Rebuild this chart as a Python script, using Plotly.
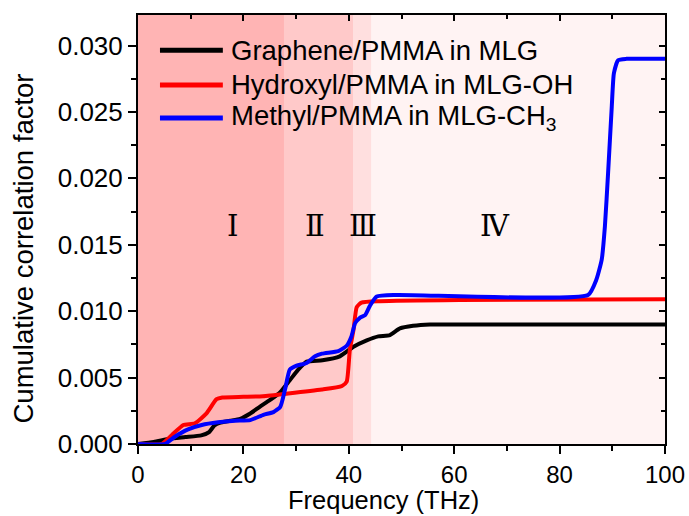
import plotly.graph_objects as go

# Cumulative correlation factor vs. frequency for three interfaces
freq_mlg = [0, 3, 6, 9, 12, 13.5, 14.5, 15.5, 17.5, 19.4, 21.3, 23.1, 25, 27, 28.8,
            30.4, 32, 35, 38.3, 40.8, 43.4, 45.6, 47.8, 49.7, 52.2, 55.4, 60, 100]
ccf_mlg = [0, 0.00015, 0.0004, 0.00052, 0.00065, 0.0009, 0.0014, 0.0016, 0.00175,
           0.0019, 0.0023, 0.0028, 0.0033, 0.0039, 0.0048, 0.0056, 0.0062, 0.0063,
           0.0066, 0.0073, 0.0078, 0.0081, 0.0082, 0.0087, 0.0089, 0.0090, 0.0090, 0.0090]

freq_oh = [0, 4.5, 6.5, 8.6, 10.8, 13.0, 14.9, 16, 20, 23.7, 28.5, 34.9, 38.7, 39.6,
           40.2, 40.9, 41.5, 42.4, 45.9, 61, 100]
ccf_oh = [0, 0, 0.0007, 0.00143, 0.00156, 0.0023, 0.00337, 0.0035, 0.00355, 0.0036,
          0.0038, 0.0041, 0.00437, 0.0047, 0.0071, 0.0086, 0.0103, 0.01064, 0.01075,
          0.01084, 0.0109]

freq_ch3 = [0, 5.1, 7.0, 9.5, 12.1, 15.2, 18.4, 21.3, 23.8, 25.7, 27.0, 27.9, 28.8,
            30.1, 32.0, 33.6, 34.9, 38.0, 39.6, 40.5, 41.2, 42.1, 43.1, 44.0, 45.3,
            49.1, 85.4, 87.0, 88.0, 88.6, 89.2, 89.9, 90.3, 91.1, 92.7, 100]
ccf_ch3 = [0, 0, 0.00055, 0.0011, 0.00143, 0.00163, 0.00175, 0.0018, 0.0022, 0.0024,
           0.0028, 0.0041, 0.0056, 0.0059, 0.0061, 0.0066, 0.0068, 0.0070, 0.0074,
           0.0081, 0.0091, 0.0095, 0.0097, 0.0104, 0.0111, 0.01122, 0.01122, 0.0124,
           0.0139, 0.0164, 0.0204, 0.0254, 0.0279, 0.0289, 0.0290, 0.0290]

series_names = ["Graphene/PMMA in MLG", "Hydroxyl/PMMA in MLG-OH",
                "Methyl/PMMA in MLG-CH<sub>3</sub>"]
series_colors = ["#000000", "#ff0000", "#0000ff"]

# Frequency regions and their labels
region_edges = [0, 27.7, 40.8, 44.3, 100]
region_colors = ["#ffb4b4", "#ffc9c9", "#ffdfdf", "#fff3f3"]
region_labels = ["Ⅰ", "Ⅱ", "Ⅲ", "Ⅳ"]
region_label_x = [18.0, 33.6, 42.7, 67.7]

FONT = "Arial, Liberation Sans, sans-serif"

fig = go.Figure()

for xs, ys, name, color in zip([freq_mlg, freq_oh, freq_ch3],
                               [ccf_mlg, ccf_oh, ccf_ch3],
                               series_names, series_colors):
    fig.add_trace(go.Scatter(x=xs, y=ys, mode="lines", name=name,
                             line=dict(color=color, width=4, shape="spline",
                                       smoothing=0.5),
                             showlegend=False))

# helper trace so the mirrored top/right axes are drawn
fig.add_trace(go.Scatter(x=[None], y=[None], xaxis="x2", yaxis="y2",
                         showlegend=False, hoverinfo="skip"))

shapes = []
for i, col in enumerate(region_colors):
    shapes.append(dict(type="rect", xref="x", yref="paper",
                       x0=region_edges[i], x1=region_edges[i + 1], y0=0, y1=1,
                       fillcolor=col, line=dict(width=0), layer="below"))

annotations = []
for lab, lx in zip(region_labels, region_label_x):
    annotations.append(dict(x=lx, y=0.508, xref="x", yref="paper", text=lab,
                            showarrow=False, xanchor="center", yanchor="middle",
                            font=dict(family="DejaVu Serif", size=29, color="black")))

# legend drawn by hand: long line samples to the left of each entry
legend_rows = [0.918, 0.837, 0.760]
for name, color, ry in zip(series_names, series_colors, legend_rows):
    shapes.append(dict(type="line", xref="paper", yref="paper",
                       x0=0.0417, x1=0.161, y0=ry, y1=ry,
                       line=dict(color=color, width=5)))
    annotations.append(dict(x=0.173, y=ry, xref="paper", yref="paper", text=name,
                            showarrow=False, xanchor="left", yanchor="middle",
                            font=dict(family=FONT, size=27.5, color="black")))

annotations.append(dict(x=0.466, y=-0.168, xref="paper", yref="paper",
                        text="Frequency (THz)", showarrow=False,
                        xanchor="center", yanchor="bottom",
                        font=dict(family=FONT, size=25.5, color="black")))
annotations.append(dict(x=-0.218, y=0.456, xref="paper", yref="paper",
                        text="Cumulative correlation factor", showarrow=False,
                        textangle=-90, xanchor="center", yanchor="middle",
                        font=dict(family=FONT, size=27.5, color="black")))

axis_common = dict(showgrid=False, zeroline=False, linecolor="black", linewidth=2,
                   tickcolor="black", tickwidth=2)

fig.update_layout(
    width=689, height=516,
    margin=dict(l=138, r=24, t=15, b=72, autoexpand=False),
    paper_bgcolor="white", plot_bgcolor="white",
    shapes=shapes, annotations=annotations,
    xaxis=dict(range=[0, 100], dtick=20, ticks="outside", ticklen=8,
               tickfont=dict(family=FONT, size=24, color="black"),
               minor=dict(dtick=10, ticks="outside", ticklen=5, tickcolor="black",
                          tickwidth=2),
               **axis_common),
    yaxis=dict(range=[0, 0.0323], dtick=0.005, tickformat=".3f", ticks="outside",
               ticklen=8, tickfont=dict(family=FONT, size=26, color="black"),
               minor=dict(dtick=0.0025, ticks="outside", ticklen=5,
                          tickcolor="black", tickwidth=2),
               **axis_common),
    xaxis2=dict(overlaying="x", side="top", anchor="y", matches="x",
                range=[0, 100], dtick=20, ticks="inside", ticklen=6,
                showticklabels=False,
                minor=dict(dtick=10, ticks="inside", ticklen=4, tickcolor="black",
                           tickwidth=2),
                **axis_common),
    yaxis2=dict(overlaying="y", side="right", anchor="x", matches="y",
                range=[0, 0.0323], dtick=0.005, ticks="inside", ticklen=6,
                showticklabels=False,
                minor=dict(dtick=0.0025, ticks="inside", ticklen=4,
                           tickcolor="black", tickwidth=2),
                **axis_common),
)

fig.write_html("out.html")
